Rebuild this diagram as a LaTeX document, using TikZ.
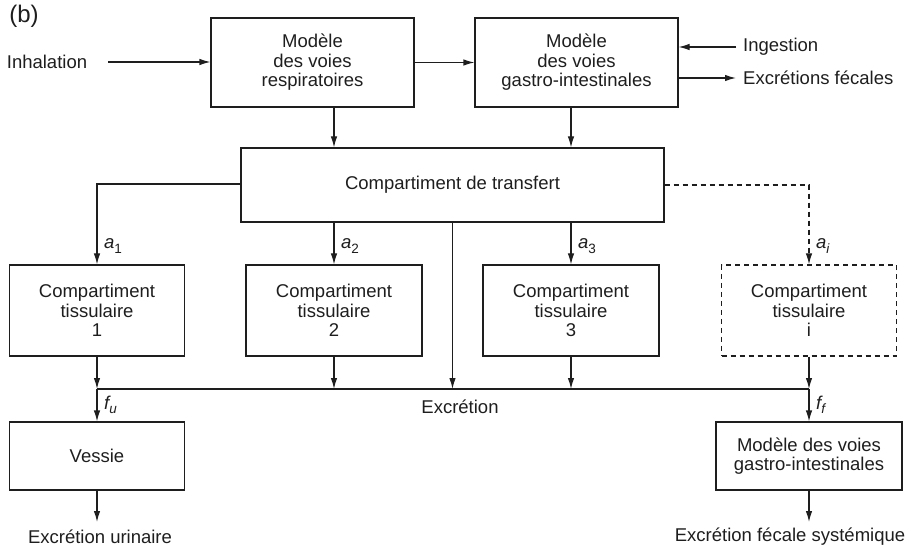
\documentclass[tikz,border=0pt]{standalone}
\usepackage{fontspec}
\setmainfont{Liberation Sans}
\usetikzlibrary{arrows.meta,calc}
\definecolor{ink}{HTML}{1E1E1E}
% index lowered below the baseline, as in a_1
\newcommand{\lowidx}[1]{\raisebox{-0.45ex}{\fontsize{13.5}{14}\selectfont #1}}
\begin{document}
\begin{tikzpicture}[x=1pt,y=-1pt,
  every node/.style={text=ink,font=\fontsize{18.5}{19.5}\selectfont,inner sep=0pt},
  box/.style={draw=ink,line width=1.2pt,align=center,minimum height=#1},
  box/.default=91pt,
  lbl/.style={anchor=west},
  arr/.style={draw=ink,line width=1.2pt,-{Latex[length=11pt,width=6.5pt]}},
  ln/.style={draw=ink,line width=1.2pt},
  dsh/.style={dash pattern=on 5pt off 4pt}]
\useasboundingbox (0,0) rectangle (916,548);

% top row of models
\node[box=89pt,minimum width=203pt] (resp) at (312.5,62.5) {Modèle\\des voies\\respiratoires};
\node[box=89pt,minimum width=203pt] (gi) at (576.5,62.5) {Modèle\\des voies\\gastro-intestinales};
\node[box=74pt,minimum width=423pt] (tr) at (452.5,185) {Compartiment de transfert};

% tissue compartments
\node[box,minimum width=175pt] (c1) at (97,310.5) {Compartiment\\tissulaire\\1};
\node[box,minimum width=176pt] (c2) at (334,310.5) {Compartiment\\tissulaire\\2};
\node[box,minimum width=176pt] (c3) at (571,310.5) {Compartiment\\tissulaire\\3};
\node[box,dsh,minimum width=175pt] (ci) at (809,310.5) {Compartiment\\tissulaire\\i};

% excretion routes
\node[box=68pt,minimum width=175pt] (ves) at (97,456) {Vessie};
\node[box=68pt,minimum width=186pt] (gi2) at (809,456) {Modèle des voies\\gastro-intestinales};

% free labels
\node[font=\fontsize{24}{26}\selectfont] (b) at (24,16) {(b)};
\node (inh) at (47,62) {Inhalation};
\node[lbl] (ing) at (743,47) {Ingestion};
\node[lbl] (exf) at (743,78) {Excrétions fécales};
\node (exc) at (460,407) {Excrétion};
\node (exu) at (100,537) {Excrétion urinaire};
\node (exs) at (790,537) {Excrétion fécale systémique};

% bus line collecting excretion
\coordinate (busL) at (c1.south |- 0,389);
\coordinate (busR) at (ci.south |- 0,389);
\coordinate (iaL) at (108,62);
\coordinate (ingE) at (736,47);
\coordinate (exfE) at (736,78);
\coordinate (uEnd) at (97,522);
\coordinate (sEnd) at (809,522);

% top connectors
\draw[arr] (iaL) -- (resp.west |- iaL);
\draw[arr] (resp.east) -- (gi.west);
\draw[arr] (ingE) -- (gi.east |- ingE);
\draw[arr] (gi.east |- exfE) -- (exfE);
\draw[arr] (resp.south -| c2) -- (tr.north -| c2);
\draw[arr] (gi.south -| c3) -- (tr.north -| c3);

% transfer to tissues
\draw[arr] (tr.west |- 0,184) -| (c1.north);
\draw[arr] (tr.south -| c2) -- (c2.north);
\draw[arr] (tr.south -| c3) -- (c3.north);
\draw[arr,dsh] (tr.east) -| (ci.north);
\node[lbl] (a1) at (104,246) {\itshape a\lowidx{\upshape 1}};
\node[lbl] (a2) at (341,246) {\itshape a\lowidx{\upshape 2}};
\node[lbl] (a3) at (578,246) {\itshape a\lowidx{\upshape 3}};
\node[lbl] (ai) at (816,246) {\itshape a\lowidx{i}};

% tissues to excretion
\draw[ln] (busL) -- (busR);
\draw[arr] (c1.south) -- (busL);
\draw[arr] (c2.south) -- (c2.south |- busL);
\draw[arr] (c3.south) -- (c3.south |- busL);
\draw[arr] (ci.south) -- (busR);
\draw[arr] (tr.south) -- (tr.south |- busL);

% to bladder and gut
\draw[arr] (busL) -- (ves.north);
\draw[arr] (busR) -- (gi2.north);
\node[lbl] (fu) at (104,405) {\itshape f\lowidx{u}};
\node[lbl] (ff) at (816,405) {\itshape f\lowidx{f}};
\draw[arr] (ves.south) -- (uEnd);
\draw[arr] (gi2.south) -- (sEnd);
\end{tikzpicture}
\end{document}
